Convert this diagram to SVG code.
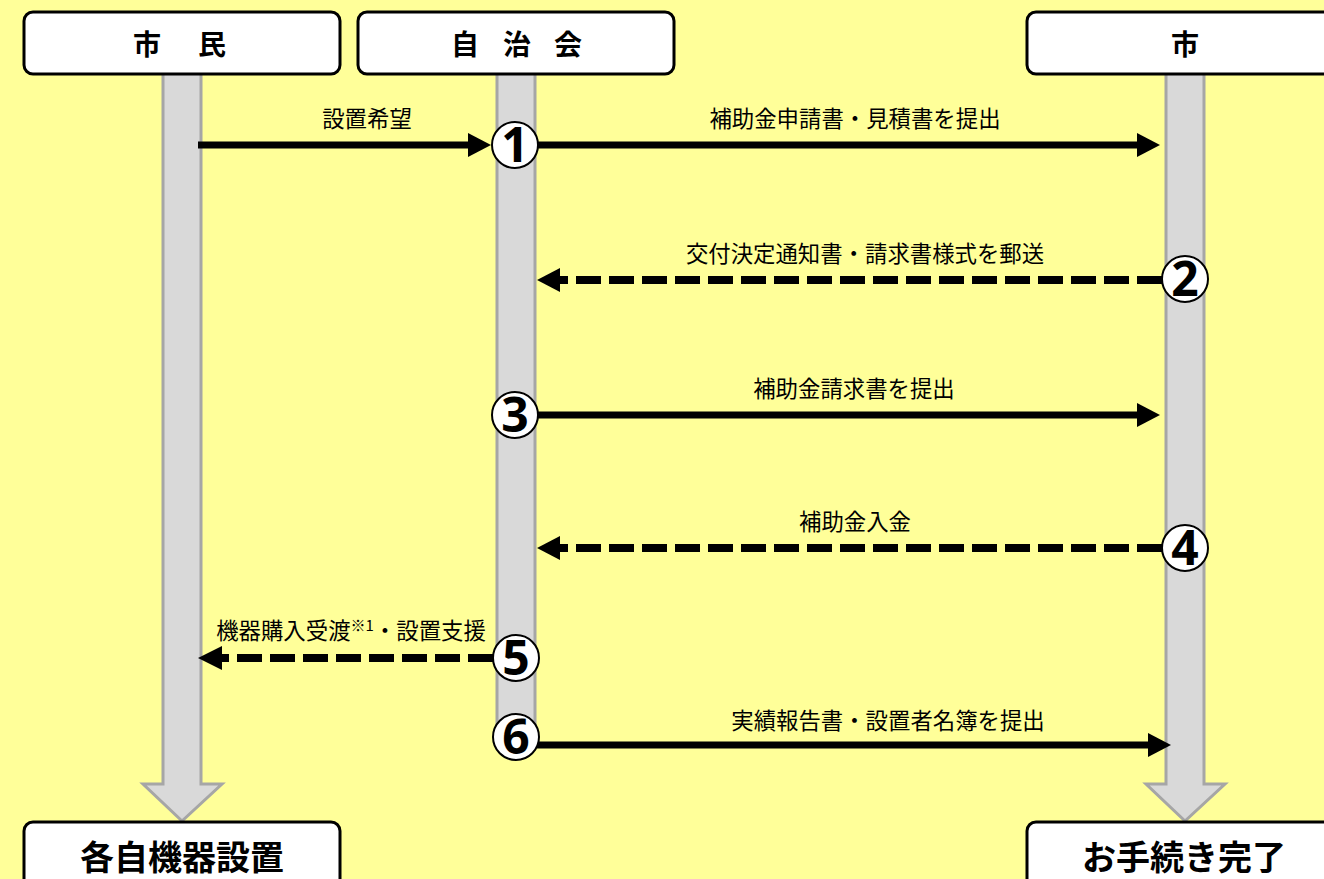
<svg xmlns="http://www.w3.org/2000/svg" width="1324" height="879" viewBox="0 0 1324 879">
<defs>
<style>
.bg{fill:#FFFF99}
.bar{fill:#D9D9D9;stroke:#A6A6A6;stroke-width:3}
.box{fill:#FFFFFF;stroke:#000;stroke-width:3}
.hdr{font-family:"Noto Sans CJK JP","Noto Sans",sans-serif;font-weight:bold;font-size:28px;fill:#000;text-anchor:middle}
.ftr{font-family:"Noto Sans CJK JP","Noto Sans",sans-serif;font-weight:bold;font-size:34px;fill:#000;text-anchor:middle}
.lbl{font-family:"Noto Sans CJK JP","Noto Sans",sans-serif;font-size:22.4px;fill:#000;text-anchor:middle}
.sup{font-size:15px}
.solid{stroke:#000;stroke-width:7;fill:none}
.dash{stroke:#000;stroke-width:8;fill:none;stroke-dasharray:25 8}
.num{fill:#FFF;stroke:#000;stroke-width:2}
.numt{font-family:"Noto Sans","DejaVu Sans",sans-serif;font-weight:bold;font-size:48px;fill:#000;text-anchor:middle}
</style>
<marker id="ah" markerUnits="userSpaceOnUse" markerWidth="24" markerHeight="26" refX="0" refY="13" orient="auto" viewBox="0 0 24 26">
<path d="M0,1 L23,13 L0,25 Z" fill="#000"/>
</marker>
</defs>
<rect class="bg" x="0" y="0" width="1324" height="879"/>

<g id="lifelines">
<path class="bar" d="M163,70 L163,784 L143,784 L182,821 L222,784 L201,784 L201,70 Z"/>
<rect class="bar" x="497" y="70" width="38" height="676"/>
<path class="bar" d="M1166,70 L1166,784 L1146,784 L1185,821 L1225,784 L1204,784 L1204,70 Z"/>
</g>

<g id="node-shimin">
<rect class="box" x="24" y="12" width="316" height="62" rx="9"/>
<text class="hdr" x="147 212" y="55">市民</text>
</g>
<g id="node-jichikai">
<rect class="box" x="358" y="12" width="316" height="62" rx="9"/>
<text class="hdr" x="465 517 568" y="55">自治会</text>
</g>
<g id="node-shi">
<rect class="box" x="1027" y="12" width="320" height="62" rx="9"/>
<text class="hdr" x="1185" y="55">市</text>
</g>
<g id="node-kakuji">
<rect class="box" x="24" y="822" width="316" height="80" rx="9"/>
<text class="ftr" x="182" y="870">各自機器設置</text>
</g>
<g id="node-kanryo">
<rect class="box" x="1027" y="822" width="320" height="80" rx="9"/>
<text class="ftr" x="1184" y="870">お手続き完了</text>
</g>

<g id="connectors">
<line class="solid" x1="198" y1="145" x2="468" y2="145" marker-end="url(#ah)"/>
<line class="solid" x1="537" y1="145" x2="1137" y2="145" marker-end="url(#ah)"/>
<line class="dash" x1="1162" y1="280" x2="560" y2="280"/>
<path d="M537,280 L560,268 L560,292 Z" fill="#000"/>
<line class="solid" x1="537" y1="415" x2="1137" y2="415" marker-end="url(#ah)"/>
<line class="dash" x1="1162" y1="548" x2="560" y2="548"/>
<path d="M537,548 L560,536 L560,560 Z" fill="#000"/>
<line class="dash" x1="493" y1="658" x2="222" y2="658"/>
<path d="M198,658 L222,646 L222,670 Z" fill="#000"/>
<line class="solid" x1="537" y1="745" x2="1148" y2="745" marker-end="url(#ah)"/>
</g>

<g id="labels">
<text class="lbl" x="367" y="127">設置希望</text>
<text class="lbl" x="855" y="127">補助金申請書・見積書を提出</text>
<text class="lbl" x="865" y="262">交付決定通知書・請求書様式を郵送</text>
<text class="lbl" x="854" y="397">補助金請求書を提出</text>
<text class="lbl" x="855" y="530">補助金入金</text>
<text class="lbl" x="351" y="639">機器購入受渡<tspan class="sup" dy="-8">※1</tspan><tspan dy="8">・設置支援</tspan></text>
<text class="lbl" x="888" y="729">実績報告書・設置者名簿を提出</text>
</g>

<g id="step1"><circle class="num" cx="515" cy="145" r="23"/><text class="numt" x="515" y="162">1</text></g>
<g id="step2"><circle class="num" cx="1185" cy="279" r="23"/><text class="numt" x="1185" y="296">2</text></g>
<g id="step3"><circle class="num" cx="515" cy="415" r="23"/><text class="numt" x="515" y="432">3</text></g>
<g id="step4"><circle class="num" cx="1185" cy="548" r="23"/><text class="numt" x="1185" y="565">4</text></g>
<g id="step5"><circle class="num" cx="516" cy="658" r="23"/><text class="numt" x="516" y="675">5</text></g>
<g id="step6"><circle class="num" cx="516" cy="737" r="23"/><text class="numt" x="516" y="754">6</text></g>
</svg>
